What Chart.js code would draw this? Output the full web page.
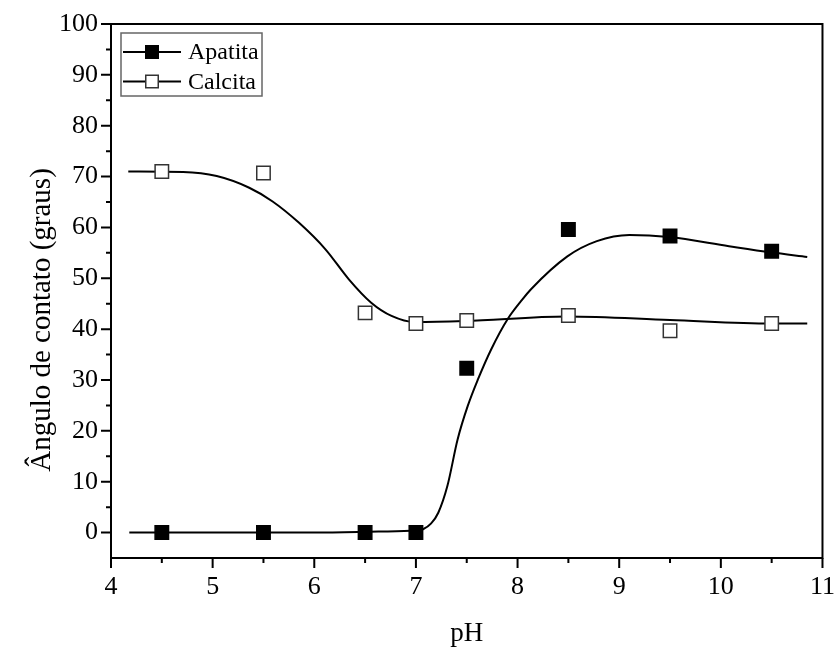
<!DOCTYPE html>
<html><head><meta charset="utf-8">
<script src="https://cdn.jsdelivr.net/npm/chart.js@4.4.0/dist/chart.umd.min.js"></script>
<style>html,body{margin:0;padding:0;background:#fff}#wrap{width:839px;height:647px;position:relative}</style>
</head><body><div id="wrap"><canvas id="c"></canvas></div>
<script>
// Measured data
const phValues = [4.5, 5.5, 6.5, 7.0, 7.5, 8.5, 9.5, 10.5];
const apatita  = [0, 0, 0, 0, 32.3, 59.6, 58.3, 55.3];
const calcita  = [71.0, 70.7, 43.2, 41.1, 41.7, 42.7, 39.7, 41.1];

// Fitted curves
const apatitaFitX = [4.18, 5.0, 6.0, 6.63, 7.0, 7.07, 7.15, 7.22, 7.31, 7.41, 7.51, 7.61, 7.74, 7.90, 8.05, 8.13, 8.49, 8.78, 9.10, 9.49, 10.08, 10.49, 10.85];
const apatitaFitY = [0, 0, 0, 0.2, 0.4, 0.65, 1.8, 3.9, 9.2, 18.3, 24.9, 30.1, 36.0, 41.9, 45.9, 47.8, 54.3, 57.3, 58.5, 58.1, 56.3, 55.1, 54.2];
const calcitaFitX = [4.17, 4.71, 5.04, 5.36, 5.59, 5.85, 6.11, 6.34, 6.56, 6.76, 6.99, 7.48, 8.49, 9.5, 10.5, 10.85];
const calcitaFitY = [71.0, 70.9, 70.1, 67.8, 65.1, 60.9, 55.7, 49.8, 45.2, 42.6, 41.4, 41.6, 42.5, 41.8, 41.1, 41.1];

const xTicks = [4, 5, 6, 7, 8, 9, 10, 11];
const yTicks = [0, 10, 20, 30, 40, 50, 60, 70, 80, 90, 100];
const xMinorTicks = [4.5, 5.5, 6.5, 7.5, 8.5, 9.5, 10.5];
const yMinorTicks = [5, 15, 25, 35, 45, 55, 65, 75, 85, 95];
const seriesNames = ['Apatita', 'Calcita'];
const xTitle = 'pH';
const yTitle = 'Ângulo de contato (graus)';

const FONT = '"Liberation Serif", "Times New Roman", serif';
const pts = (xs, ys) => xs.map((x, i) => ({x: x, y: ys[i]}));

const framePlugin = {
  id: 'frame',
  afterDraw(chart) {
    const ctx = chart.ctx, a = chart.chartArea;
    const xs = chart.scales.x, ys = chart.scales.y;
    ctx.save();
    ctx.strokeStyle = '#000';
    ctx.lineWidth = 2;
    ctx.strokeRect(a.left, a.top, a.right - a.left, a.bottom - a.top);
    ctx.beginPath();
    xTicks.forEach(v => { const p = xs.getPixelForValue(v); ctx.moveTo(p, a.bottom); ctx.lineTo(p, a.bottom + 10); });
    xMinorTicks.forEach(v => { const p = xs.getPixelForValue(v); ctx.moveTo(p, a.bottom); ctx.lineTo(p, a.bottom + 5); });
    yTicks.forEach(v => { const p = ys.getPixelForValue(v); ctx.moveTo(a.left, p); ctx.lineTo(a.left - 10, p); });
    yMinorTicks.forEach(v => { const p = ys.getPixelForValue(v); ctx.moveTo(a.left, p); ctx.lineTo(a.left - 5, p); });
    ctx.stroke();

    // y axis title (slightly below the axis centre, as in the original)
    ctx.save();
    ctx.translate(42, (a.top + a.bottom) / 2 + 29);
    ctx.rotate(-Math.PI / 2);
    ctx.fillStyle = '#000';
    ctx.font = '29px ' + FONT;
    ctx.textAlign = 'center';
    ctx.textBaseline = 'middle';
    ctx.fillText(yTitle, 0, 0);
    ctx.restore();

    // legend
    const bx = a.left + 10, by = a.top + 9, bw = 141, bh = 63;
    ctx.fillStyle = '#fff';
    ctx.fillRect(bx, by, bw, bh);
    ctx.strokeStyle = '#666';
    ctx.lineWidth = 1.5;
    ctx.strokeRect(bx, by, bw, bh);
    const rows = [by + 19, by + 48.5];
    const fills = ['#000', '#fff'];
    const borders = ['#000', '#333'];
    rows.forEach((ry, i) => {
      ctx.strokeStyle = '#000';
      ctx.lineWidth = 2;
      ctx.beginPath();
      ctx.moveTo(bx + 2, ry); ctx.lineTo(bx + 60, ry);
      ctx.stroke();
      const cx = bx + 31, s = 12.5;
      ctx.fillStyle = fills[i];
      ctx.fillRect(cx - s / 2, ry - s / 2, s, s);
      ctx.strokeStyle = borders[i];
      ctx.lineWidth = 1.5;
      ctx.strokeRect(cx - s / 2, ry - s / 2, s, s);
      ctx.fillStyle = '#000';
      ctx.font = '24px ' + FONT;
      ctx.textBaseline = 'middle';
      ctx.textAlign = 'left';
      ctx.fillText(seriesNames[i], bx + 67, ry + 1);
    });
    ctx.restore();
  }
};

new Chart(document.getElementById('c'), {
  type: 'scatter',
  data: {
    datasets: [
      {label: seriesNames[0] + ' fit', data: pts(apatitaFitX, apatitaFitY), showLine: true, pointRadius: 0, borderColor: '#000', borderWidth: 2, cubicInterpolationMode: 'monotone', order: 3},
      {label: seriesNames[1] + ' fit', data: pts(calcitaFitX, calcitaFitY), showLine: true, pointRadius: 0, borderColor: '#000', borderWidth: 2, cubicInterpolationMode: 'monotone', order: 4},
      {label: seriesNames[0], data: pts(phValues, apatita), showLine: false, pointStyle: 'rect', pointRadius: 9.5, backgroundColor: '#000', borderColor: '#000', borderWidth: 1.5, order: 1},
      {label: seriesNames[1], data: pts(phValues, calcita), showLine: false, pointStyle: 'rect', pointRadius: 9.5, backgroundColor: '#fff', borderColor: '#333', borderWidth: 1.5, order: 2}
    ]
  },
  options: {
    responsive: true,
    maintainAspectRatio: false,
    animation: false,
    devicePixelRatio: 1,
    layout: {padding: {top: 24, right: 12, left: 0, bottom: 0}},
    plugins: {legend: {display: false}, tooltip: {enabled: false}},
    scales: {
      x: {
        type: 'linear', position: 'bottom', min: 4, max: 11,
        afterBuildTicks: s => { s.ticks = xTicks.map(v => ({value: v})); },
        afterFit: s => { s.height = 89; },
        ticks: {font: {family: FONT, size: 26}, color: '#000', padding: 4, maxRotation: 0, autoSkip: false},
        grid: {drawOnChartArea: false, drawTicks: true, tickLength: 10, color: 'rgba(0,0,0,0)'},
        border: {display: false},
        title: {display: true, text: xTitle, font: {family: FONT, size: 27, lineHeight: 1}, color: '#000', padding: {top: 0, bottom: 0}}
      },
      y: {
        type: 'linear', position: 'left', min: -5, max: 100,
        afterBuildTicks: s => { s.ticks = yTicks.map(v => ({value: v})); },
        afterFit: s => { s.width = 111; },
        ticks: {font: {family: FONT, size: 26}, color: '#000', padding: 3, autoSkip: false},
        grid: {drawOnChartArea: false, drawTicks: true, tickLength: 10, color: 'rgba(0,0,0,0)'},
        border: {display: false},
        title: {display: false, text: yTitle}
      }
    }
  },
  plugins: [framePlugin]
});
</script>
</body></html>
